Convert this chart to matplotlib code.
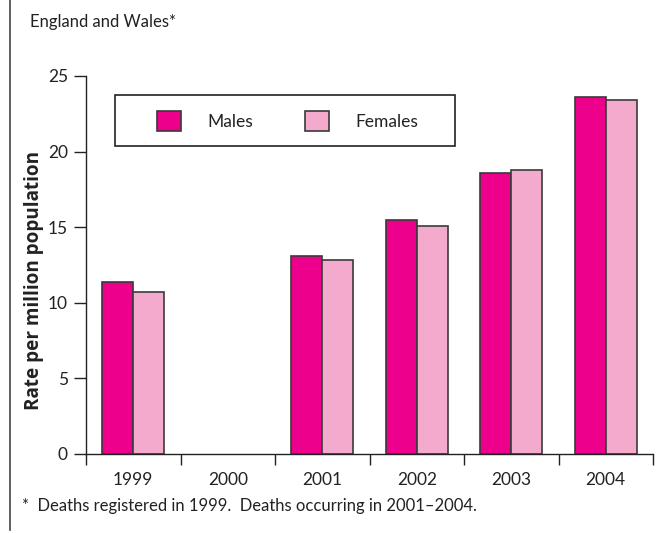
import numpy as np
import matplotlib
matplotlib.use("Agg")
import matplotlib.pyplot as plt
from matplotlib.lines import Line2D
from matplotlib.patches import Patch, Rectangle

plt.rcParams['font.family'] = ['Lato', 'DejaVu Sans']

years = ["1999", "2000", "2001", "2002", "2003", "2004"]
males = [11.4, np.nan, 13.1, 15.5, 18.6, 23.6]
females = [10.7, np.nan, 12.8, 15.1, 18.8, 23.4]

MALE_COL = "#EC008C"
FEMALE_COL = "#F4AACD"
EDGE = "#3a3a3a"
TXT = "#222222"

W, H = 672, 533
fig = plt.figure(figsize=(W/100, H/100), dpi=100)
ax = fig.add_axes([86/W, 1 - 454/H, (653 - 86)/W, (454 - 76)/H])

x = np.arange(len(years))
w = 0.33
ax.bar(x - w/2, males, w, color=MALE_COL, edgecolor=EDGE, linewidth=1.2)
ax.bar(x + w/2, females, w, color=FEMALE_COL, edgecolor=EDGE, linewidth=1.2)

ax.set_xlim(-0.5, len(years) - 0.5)
ax.set_ylim(0, 25)
ax.set_yticks([0, 5, 10, 15, 20, 25])
# boundary ticks, labels centred on the groups
ax.set_xticks(np.arange(-0.5, len(years)))
ax.set_xticklabels([])
ax.set_xticks(x, minor=True)
ax.set_xticklabels(years, minor=True)
ax.tick_params(axis="x", which="major", length=8, width=1, color=TXT)
ax.tick_params(axis="x", which="minor", length=0, pad=13, labelsize=12.5, labelcolor=TXT)
ax.tick_params(axis="y", length=9, width=1, color=TXT, labelsize=12.5, labelcolor=TXT, pad=4)

for s in ["top", "right"]:
    ax.spines[s].set_visible(False)
for s in ["left", "bottom"]:
    ax.spines[s].set_linewidth(1)
    ax.spines[s].set_color(TXT)

ax.set_ylabel("Rate per million population", fontsize=13.6, fontweight="bold",
              family=["Open Sans", "DejaVu Sans"], color=TXT)
ax.yaxis.set_label_coords((44 - 86)/567, (454 - 280)/378)

# legend: frame drawn separately, entries placed inside
fig.add_artist(Rectangle((115/W, 1 - 146/H), 340/W, 51/H, transform=fig.transFigure,
                         fill=False, edgecolor=TXT, linewidth=1.2))
handles = [Patch(facecolor=MALE_COL, edgecolor=EDGE, linewidth=1.2),
           Patch(facecolor=FEMALE_COL, edgecolor=EDGE, linewidth=1.2)]
leg = fig.legend(handles, ["Males", "Females"], ncol=2, loc="center left",
                 bbox_to_anchor=(157/W, 1 - 121/H), frameon=False, fontsize=12.5,
                 handlelength=1.4, handleheight=1.4, handletextpad=1.5,
                 columnspacing=3.0, borderpad=0, borderaxespad=0)
for t in leg.get_texts():
    t.set_color(TXT)

fig.text(30/W, 1 - 22/H, "England and Wales*", fontsize=12, color=TXT, va="center")
fig.text(22/W, 1 - 506/H, "*  Deaths registered in 1999.  Deaths occurring in 2001\u20132004.",
         fontsize=12, color=TXT, va="center")

fig.add_artist(Line2D([10/W, 10/W], [1.0, 1 - 530/H], color="#444444", linewidth=1.2))

fig.savefig("out.png", dpi=100)
